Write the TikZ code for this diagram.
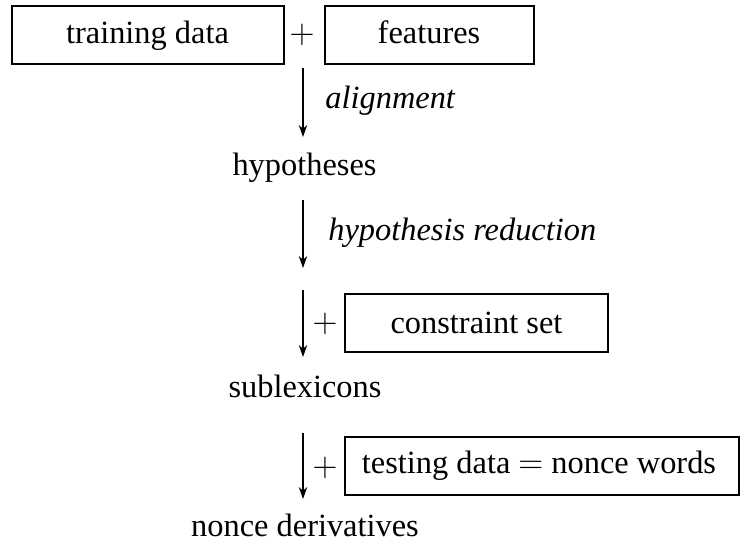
\documentclass[tikz,border=0pt]{standalone}
\usepackage{fontspec}
\setmainfont{Liberation Serif}
\usetikzlibrary{arrows.meta}
\begin{document}
\begin{tikzpicture}[x=0.5pt,y=-0.5pt,
  every node/.style={inner sep=0pt, font=\fontsize{16.2}{19}\selectfont},
  databox/.style={draw, line width=0.55pt, minimum height=29pt},
  txt/.style={anchor=base},
  step label/.style={anchor=base west, font=\fontsize{16.2}{19}\selectfont\itshape},
  flow/.style={line width=0.9pt, -{Stealth[length=6pt,width=4.2pt]}}]
\useasboundingbox (0,0) rectangle (740,548);

% inputs on top
\node[databox, minimum width=136pt] (train) at (148,35) {};
\node[txt] (trainT) at (147.5,43) {training data};
\node (plusA) at (302,35) {$+$};
\node[databox, minimum width=104.5pt] (feat) at (429.5,35) {};
\node[txt] (featT) at (429,43) {features};

% alignment step
\coordinate (a1) at (303,68);
\coordinate (a2) at (303,137);
\draw[flow] (a1) -- (a2);
\node[step label] (align) at (325,108) {alignment};

\node[txt] (hyp) at (304.5,175) {hypotheses};

% hypothesis reduction step
\coordinate (b1) at (303,200);
\coordinate (b2) at (303,268);
\draw[flow] (b1) -- (b2);
\node[step label] (red) at (328,240) {hypothesis reduction};

% constraint set
\coordinate (c1) at (303,290);
\coordinate (c2) at (303,357);
\draw[flow] (c1) -- (c2);
\node (plusB) at (325,324) {$+$};
\node[databox, minimum width=131.5pt] (cons) at (476.5,323) {};
\node[txt] (consT) at (476.5,333) {constraint set};

\node[txt] (sub) at (305,397) {sublexicons};

% testing data
\coordinate (d1) at (303,433);
\coordinate (d2) at (303,499);
\draw[flow] (d1) -- (d2);
\node (plusC) at (325,468) {$+$};
\node[databox, minimum width=197pt] (test) at (542,466) {};
\node[txt] (testT) at (539,473) {testing data $=$ nonce words};

\node[txt] (nonce) at (305,536) {nonce derivatives};
\end{tikzpicture}
\end{document}
